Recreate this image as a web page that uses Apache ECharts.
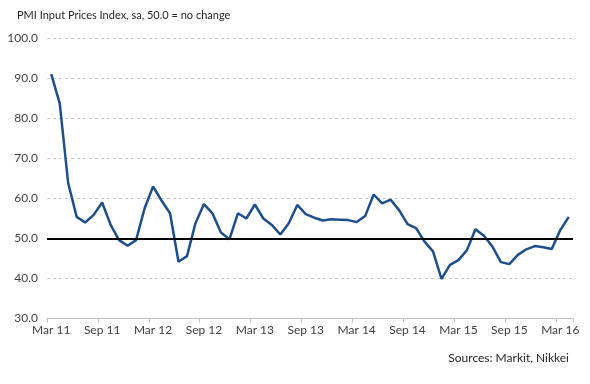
<!DOCTYPE html>
<html>
<head>
<meta charset="utf-8">
<script src="https://cdn.jsdelivr.net/npm/echarts@6/dist/echarts.min.js"></script>
<style>html,body{margin:0;padding:0;background:#fff}#c{width:590px;height:384px}</style>
</head>
<body>
<div id="c"></div>
<script>
var months = ['Jan','Feb','Mar','Apr','May','Jun','Jul','Aug','Sep','Oct','Nov','Dec'];
var categories = [];
(function(){ var m = 2, y = 11; for (var i = 0; i < 62; i++) { categories.push(months[m] + ' ' + y); m++; if (m > 11) { m = 0; y++; } } })();
var pmiValues = [
  91.1, 83.8, 63.8, 55.4, 54.0, 55.9, 59.0, 53.4, 49.6, 48.2,
  49.6, 57.5, 63.0, 59.5, 56.3, 44.2, 45.6, 53.8, 58.6, 56.3,
  51.5, 49.8, 56.3, 55.0, 58.5, 55.0, 53.4, 51.0, 53.8, 58.4,
  56.1, 55.2, 54.5, 54.8, 54.7, 54.6, 54.1, 55.6, 61.0, 58.8,
  59.7, 57.1, 53.6, 52.6, 49.2, 46.8, 39.9, 43.4, 44.6, 47.1,
  52.3, 50.7, 48.0, 44.1, 43.6, 45.9, 47.3, 48.1, 47.8, 47.4,
  52.1, 55.4
];
var noChange = 50;
var yMin = 30, yMax = 100, yStep = 10;

var chart = echarts.init(document.getElementById('c'));
var font = 'Lato';
chart.setOption({
  animation: false,
  backgroundColor: '#ffffff',
  graphic: [
    { type: 'text', left: 17, top: 10, style: { text: 'PMI Input Prices Index, sa, 50.0 = no change', font: '11px ' + font, fill: '#262626' } },
    { type: 'text', right: 21, top: 352, style: { text: 'Sources: Markit, Nikkei', font: '12px ' + font, fill: '#262626' } }
  ],
  grid: { left: 47, right: 17, top: 38.5, bottom: 65.5, containLabel: false },
  xAxis: {
    type: 'category',
    data: categories,
    boundaryGap: true,
    axisLine: { lineStyle: { color: '#bfbfbf', width: 1 } },
    axisTick: { show: true, interval: 5, length: 4, lineStyle: { color: '#bfbfbf' } },
    axisLabel: { interval: 5, color: '#404040', fontFamily: font, fontSize: 12, margin: 6 },
    splitLine: { show: false }
  },
  yAxis: {
    type: 'value',
    min: yMin, max: yMax, interval: yStep,
    axisLine: { show: false },
    axisTick: { show: false },
    axisLabel: { color: '#404040', fontFamily: font, fontSize: 12, margin: 9, formatter: function(v){ return v.toFixed(1); } },
    splitLine: { show: true, lineStyle: { color: '#c8c8c8', type: [3, 3], width: 1 } }
  },
  series: [
    {
      type: 'line', data: [], z: 1,
      markLine: {
        silent: true, symbol: 'none', label: { show: false },
        lineStyle: { color: '#000000', width: 2, type: 'solid' },
        data: [{ yAxis: noChange }]
      }
    },
    {
      type: 'line', data: pmiValues, z: 3,
      showSymbol: false, symbol: 'none',
      lineStyle: { color: '#1f4e8c', width: 2.5 },
      itemStyle: { color: '#1f4e8c' }
    }
  ]
});
</script>
</body>
</html>
